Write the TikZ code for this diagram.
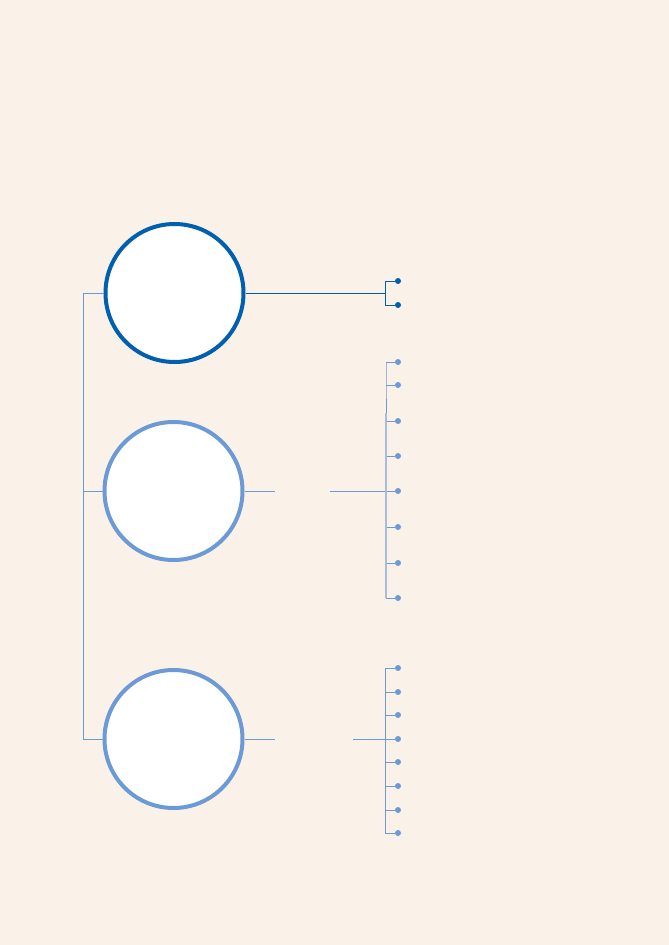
\documentclass[tikz,border=0pt]{standalone}
\definecolor{bgCream}{RGB}{250,242,233}
\definecolor{deepBlue}{RGB}{0,96,175}
\definecolor{softBlue}{RGB}{108,154,214}
\definecolor{paleBlue}{RGB}{165,189,225}
\usepackage{tikz}
\usetikzlibrary{positioning,calc}

\begin{document}
\begin{tikzpicture}[x=1pt,y=-1pt,
    hub/.style={circle,draw=#1,line width=4pt,fill=white,minimum size=138pt,inner sep=0pt},
    leaf/.style={circle,fill=#1,minimum size=6pt,inner sep=0pt},
    wire/.style={#1,line width=0.9pt}]
  \fill[bgCream] (0,0) rectangle (669,945);
  % hubs
  \node[hub=deepBlue] (h1) at (174.5,293) {};
  \node[hub=softBlue] (h2) at (173.5,491) {};
  \node[hub=softBlue] (h3) at (173.5,739) {};
  % trunk on the left
  \coordinate (trunk) at (83,0);
  \draw[wire=softBlue] (h1.west) -- (h1.west -| trunk) -- (h3.west -| trunk) -- (h3.west);
  \draw[wire=softBlue] (h2.west -| trunk) -- (h2.west);
  % first group
  \coordinate (b1) at (385,293);
  \foreach \y [count=\i] in {281,305} {
    \node[leaf=deepBlue] (a\i) at (398,\y) {};
  }
  \draw[wire=deepBlue] (h1.east) -- (b1);
  \draw[wire=deepBlue] (a1) -- (a1 -| b1) -- (a2 -| b1) -- (a2);
  % second group
  \coordinate (b2) at (386,491);
  \coordinate (g2a) at (275,491);
  \coordinate (g2b) at (330,491);
  \foreach \y [count=\i] in {362,385,421,456,491,527,563,598} {
    \node[leaf=softBlue] (c\i) at (398,\y) {};
    \draw[wire=softBlue] (c\i) -- (c\i -| b2);
  }
  \draw[wire=softBlue] (h2.east) -- (g2a);
  \draw[wire=softBlue] (g2b) -- (c5);
  \draw[wire=softBlue] (c1 -| b2) -- (c2 -| b2) -- ++(0,28);
  \draw[paleBlue,line width=1.6pt] (c2 -| b2) ++(0,28) -- (c8 -| b2);
  % third group
  \coordinate (b3) at (385,739);
  \coordinate (g3a) at (275,739);
  \coordinate (g3b) at (353,739);
  \foreach \y [count=\i] in {668,692,715,739,762,786,810,833} {
    \node[leaf=softBlue] (d\i) at (398,\y) {};
    \draw[wire=softBlue] (d\i) -- (d\i -| b3);
  }
  \draw[wire=softBlue] (h3.east) -- (g3a);
  \draw[wire=softBlue] (g3b) -- (d4);
  \draw[wire=softBlue] (d1 -| b3) -- (d8 -| b3);
\end{tikzpicture}
\end{document}
